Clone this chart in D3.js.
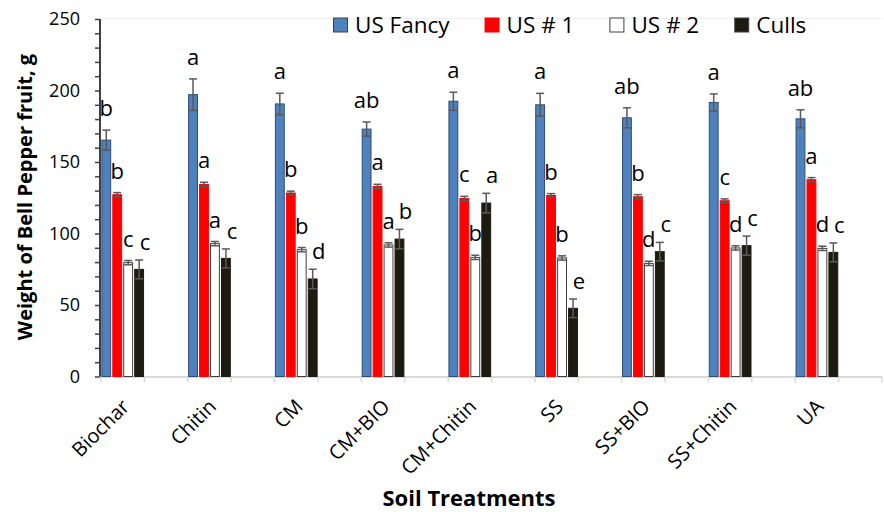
<!DOCTYPE html>
<html>
<head>
<meta charset="utf-8">
<script src="https://cdn.jsdelivr.net/npm/d3@7"></script>
<style>
  body { margin: 0; background: #fff; }
  svg text { font-family: "Open Sans", "DejaVu Sans", sans-serif; fill: #000; }
</style>
</head>
<body>
<div id="chart"></div>
<script>
// treatments on the x axis
var treatments = ["Biochar", "Chitin", "CM", "CM+BIO", "CM+Chitin", "SS", "SS+BIO", "SS+Chitin", "UA"];
var seriesNames = ["US Fancy", "US # 1", "US # 2", "Culls"];

// mean weight (g) per grade
var usFancy = [165.3, 197.1, 190.6, 173.0, 192.5, 190.0, 180.9, 191.6, 180.2];
var usNo1   = [127.1, 134.3, 128.3, 132.9, 124.5, 126.6, 125.7, 122.9, 137.6];
var usNo2   = [79.6, 92.9, 88.7, 92.0, 83.3, 82.9, 79.1, 89.9, 89.6];
var culls   = [74.9, 82.6, 68.2, 96.1, 121.3, 47.7, 87.3, 91.5, 86.8];

// standard error
var errFancy = [7.0, 11.0, 7.5, 5.0, 6.3, 8.0, 7.0, 6.0, 6.3];
var errNo1   = [1.5, 1.5, 1.3, 1.5, 1.5, 1.3, 1.5, 1.3, 1.5];
var errNo2   = [1.5, 1.5, 1.5, 1.5, 1.5, 1.5, 1.5, 1.5, 1.5];
var errCulls = [6.6, 6.6, 6.8, 6.8, 6.8, 6.5, 6.5, 6.7, 6.6];

// mean separation letters
var letFancy = ["b", "a", "a", "ab", "a", "a", "ab", "a", "ab"];
var letNo1   = ["b", "a", "b", "a", "c", "b", "b", "c", "a"];
var letNo2   = ["c", "a", "b", "a", "b", "b", "d", "d", "d"];
var letCulls = ["c", "c", "d", "b", "a", "e", "c", "c", "c"];

var yTicks = [0, 50, 100, 150, 200, 250];

var fills   = ["#4f81bd", "#ff0000", "#ffffff", "#1d1b10"];
var strokes = ["#2c4d75", "#ff0000", "#404040", "#1d1b10"];

var W = 884, H = 512;
var svg = d3.select("#chart").append("svg").attr("width", W).attr("height", H);

var values = [usFancy, usNo1, usNo2, culls];
var errs = [errFancy, errNo1, errNo2, errCulls];
var letters = [letFancy, letNo1, letNo2, letCulls];

var data = [];
treatments.forEach(function (t, i) {
    seriesNames.forEach(function (s, j) {
        data.push({ t: t, s: s, j: j, v: values[j][i], e: errs[j][i], l: letters[j][i] });
    });
});

var x = d3.scaleBand().domain(treatments).range([101, 882]).padding(0);
// bars fill the first half of each category slot
var xs = d3.scaleBand().domain(seriesNames).range([0, x.bandwidth() / 2]).paddingInner(0.1).paddingOuter(0.03);
var y = d3.scaleLinear().domain([0, 250]).range([376.5, 19]);

function cx(d) { return x(d.t) + xs(d.s) + xs.bandwidth() / 2; }

// faint plot border on top
svg.append("line").attr("x1", 100).attr("x2", 882).attr("y1", 18.5).attr("y2", 18.5)
    .attr("stroke", "#f0f0f0");

// x axis line + ticks at each half slot
svg.append("line").attr("x1", 100).attr("x2", 882).attr("y1", y(0) + 0.5).attr("y2", y(0) + 0.5)
    .attr("stroke", "#d9d9d9").attr("stroke-width", 2);
var tickXs = d3.range(treatments.length * 2 + 1).map(function (k) { return 101 + k * x.step() / 2; });
svg.selectAll(".xtick").data(tickXs).enter().append("line")
    .attr("x1", function (d) { return d; }).attr("x2", function (d) { return d; })
    .attr("y1", y(0)).attr("y2", y(0) + 6)
    .attr("stroke", "#d9d9d9").attr("stroke-width", 1.5);

// bars
svg.selectAll(".bar").data(data).enter().append("rect")
    .attr("x", function (d) { return x(d.t) + xs(d.s) + 0.5; })
    .attr("width", xs.bandwidth() - 1)
    .attr("y", function (d) { return y(d.v); })
    .attr("height", function (d) { return y(0) - y(d.v); })
    .attr("fill", function (d) { return fills[d.j]; })
    .attr("stroke", function (d) { return strokes[d.j]; })
    .attr("stroke-width", 1);

// error bars
var eb = svg.selectAll(".err").data(data).enter().append("g").attr("stroke", "#595959").attr("stroke-width", 1.5);
eb.append("line")
    .attr("x1", cx).attr("x2", cx)
    .attr("y1", function (d) { return y(d.v + d.e); })
    .attr("y2", function (d) { return y(d.v - d.e); });
[1, -1].forEach(function (sg) {
    eb.append("line")
        .attr("x1", function (d) { return cx(d) - 4; })
        .attr("x2", function (d) { return cx(d) + 4; })
        .attr("y1", function (d) { return y(d.v + sg * d.e); })
        .attr("y2", function (d) { return y(d.v + sg * d.e); });
});

// letters above bars (culls letters sit a bit to the right)
svg.selectAll(".let").data(data).enter().append("text")
    .attr("x", function (d) { return cx(d) + (d.j == 3 ? 6 : 0); })
    .attr("y", function (d) { return y(d.v + d.e) - (d.j == 3 ? 10 : 14); })
    .attr("text-anchor", "middle")
    .style("font-size", "22px")
    .text(function (d) { return d.l; });

// y axis
var yAxis = d3.axisLeft(y).tickValues(d3.range(0, 251, 10)).tickSize(5)
    .tickFormat(function (d) { return yTicks.indexOf(d) >= 0 ? d : ""; });
var gy = svg.append("g").attr("transform", "translate(100,0)").call(yAxis);
gy.select(".domain").attr("stroke", "#404040").attr("stroke-width", 2).attr("d", "M0," + y(250) + "V" + y(0));
gy.selectAll(".tick line").attr("stroke", "#404040").attr("stroke-width", 1.5);
gy.selectAll(".tick text").attr("x", -20).style("font-size", "18px").style("font-family", "Open Sans");

// category labels
svg.selectAll(".xlab").data(treatments).enter().append("text")
    .attr("transform", function (d) {
        return "translate(" + (x(d) + x.bandwidth() / 4 - 2) + "," + 398 + ") rotate(-45)";
    })
    .attr("text-anchor", "end")
    .attr("dy", "0.7em")
    .style("font-size", "20px")
    .text(function (d) { return d; });

// axis titles
svg.append("text").attr("x", 469).attr("y", 506).attr("text-anchor", "middle")
    .style("font-size", "22px").style("font-weight", "bold").text("Soil Treatments");
svg.append("text").attr("transform", "translate(32,197) rotate(-90)").attr("text-anchor", "middle")
    .style("font-size", "20px").style("font-weight", "bold").text("Weight of Bell Pepper fruit, g");

// legend
var lx = 333;
seriesNames.forEach(function (s, j) {
    svg.append("rect").attr("x", lx + 0.5).attr("y", 18).attr("width", 14).attr("height", 14)
        .attr("fill", fills[j]).attr("stroke", j == 1 ? fills[j] : "#404040").attr("stroke-width", 1);
    var t = svg.append("text").attr("x", lx + 22).attr("y", 33).style("font-size", "22.5px").text(s);
    lx = lx + 22 + t.node().getComputedTextLength() + 35;
});
</script>
</body>
</html>
